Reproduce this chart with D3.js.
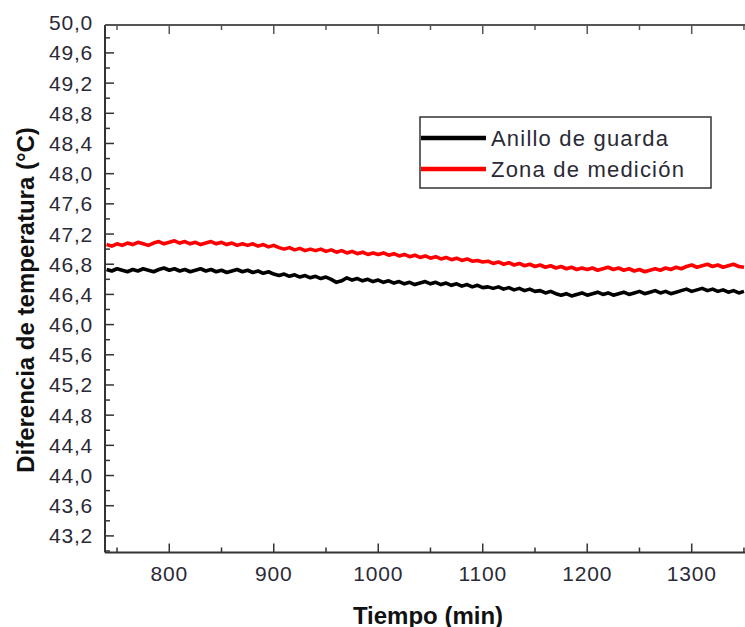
<!DOCTYPE html>
<html><head><meta charset="utf-8">
<script src="https://cdn.jsdelivr.net/npm/d3@7"></script>
<style>body{margin:0;background:#fff}svg{display:block}</style>
</head><body>
<svg id="c" width="745" height="627"></svg>
<script>
const timeStart = 740, timeStep = 5;
const seriesNames = ["Anillo de guarda", "Zona de medición"];
const seriesColors = ["#000000", "#ff0000"];
const anilloValues = [
46.73,46.71,46.74,46.72,46.70,46.73,46.71,46.74,46.72,46.70,
46.73,46.75,46.72,46.74,46.71,46.73,46.70,46.72,46.74,46.71,
46.73,46.70,46.72,46.69,46.71,46.73,46.70,46.72,46.69,46.71,
46.68,46.70,46.67,46.65,46.67,46.64,46.66,46.63,46.65,46.62,
46.64,46.61,46.63,46.60,46.56,46.58,46.62,46.59,46.61,46.58,
46.60,46.57,46.59,46.56,46.58,46.55,46.57,46.54,46.56,46.53,
46.55,46.57,46.54,46.56,46.53,46.55,46.52,46.54,46.51,46.53,
46.50,46.52,46.49,46.50,46.48,46.50,46.47,46.49,46.46,46.48,
46.45,46.47,46.44,46.45,46.42,46.44,46.41,46.39,46.41,46.38,
46.40,46.42,46.39,46.41,46.43,46.40,46.42,46.39,46.41,46.43,
46.40,46.42,46.44,46.41,46.43,46.45,46.42,46.44,46.41,46.43,
46.45,46.47,46.44,46.46,46.48,46.45,46.47,46.44,46.46,46.43,
46.45,46.42,46.44];
const zonaValues = [
47.06,47.04,47.07,47.05,47.08,47.06,47.09,47.07,47.05,47.08,
47.10,47.07,47.09,47.11,47.08,47.10,47.07,47.09,47.06,47.08,
47.10,47.07,47.09,47.06,47.08,47.05,47.07,47.05,47.07,47.04,
47.06,47.03,47.05,47.02,47.00,47.02,46.99,47.01,46.98,47.00,
46.98,47.00,46.97,46.99,46.96,46.98,46.95,46.97,46.94,46.96,
46.93,46.95,46.93,46.95,46.92,46.94,46.91,46.93,46.90,46.92,
46.89,46.91,46.88,46.90,46.87,46.89,46.86,46.88,46.85,46.87,
46.84,46.85,46.83,46.84,46.81,46.83,46.80,46.82,46.79,46.81,
46.78,46.80,46.77,46.79,46.76,46.78,46.75,46.77,46.74,46.76,
46.73,46.75,46.73,46.75,46.72,46.74,46.76,46.73,46.75,46.72,
46.74,46.71,46.73,46.70,46.72,46.74,46.72,46.75,46.73,46.76,
46.74,46.77,46.79,46.76,46.78,46.80,46.77,46.79,46.76,46.78,
46.80,46.77,46.76];
const xMajorTicks = [800, 900, 1000, 1100, 1200, 1300];
const xMinorTicks = [750, 850, 950, 1050, 1150, 1250, 1350];
const yMajorTicks = [43.2,43.6,44.0,44.4,44.8,45.2,45.6,46.0,46.4,46.8,47.2,47.6,48.0,48.4,48.8,49.2,49.6,50.0];
const yMinorTicks = [43.0,43.4,43.8,44.2,44.6,45.0,45.4,45.8,46.2,46.6,47.0,47.4,47.8,48.2,48.6,49.0,49.4,49.8];

const svg = d3.select("#c");
const L = 105, R = 745, T = 25, B = 552.5;
const x = d3.scaleLinear().domain([738.5, 1351]).range([L, R]);
const y = d3.scaleLinear().domain([42.98, 49.97]).range([B, T]);
const fmt = v => v.toFixed(1).replace(".", ",");
const font = "'Liberation Sans', Arial, sans-serif";

svg.append("defs").append("clipPath").attr("id","clip")
  .append("rect").attr("x",L).attr("y",T).attr("width",R-L).attr("height",B-T);

const series = [anilloValues, zonaValues];
const line = d3.line().x((d,i)=>x(timeStart + i*timeStep)).y(d=>y(d));
const g = svg.append("g").attr("clip-path","url(#clip)");
series.forEach((vals, k) => {
  g.append("path").datum(vals).attr("d", line)
   .attr("fill","none").attr("stroke", seriesColors[k])
   .attr("stroke-width", 3.6).attr("stroke-linejoin","round");
});

// axes frame
const axisColor = "#333";
svg.append("line").attr("x1",L).attr("x2",R).attr("y1",B).attr("y2",B).attr("stroke",axisColor).attr("stroke-width",2);
svg.append("line").attr("x1",L).attr("x2",L).attr("y1",T).attr("y2",B).attr("stroke",axisColor).attr("stroke-width",2);
svg.append("line").attr("x1",L).attr("x2",R).attr("y1",T).attr("y2",T).attr("stroke","#555").attr("stroke-width",2);

// x ticks (bottom and top, inward)
xMajorTicks.forEach(t => {
  svg.append("line").attr("x1",x(t)).attr("x2",x(t)).attr("y1",B).attr("y2",B-9).attr("stroke",axisColor).attr("stroke-width",1.5);
  svg.append("line").attr("x1",x(t)).attr("x2",x(t)).attr("y1",T).attr("y2",T+9).attr("stroke","#555").attr("stroke-width",1.5);
  svg.append("text").attr("x",x(t)).attr("y",581).attr("text-anchor","middle")
    .attr("font-family",font).attr("font-size",21).attr("letter-spacing","0.8px").attr("fill","#2a2a36").text(t);
});
xMinorTicks.forEach(t => {
  svg.append("line").attr("x1",x(t)).attr("x2",x(t)).attr("y1",B).attr("y2",B-5).attr("stroke",axisColor).attr("stroke-width",1.5);
  svg.append("line").attr("x1",x(t)).attr("x2",x(t)).attr("y1",T).attr("y2",T+5).attr("stroke","#555").attr("stroke-width",1.5);
});
// y ticks
yMajorTicks.forEach(v => {
  if (y(v) > T + 1) svg.append("line").attr("x1",L).attr("x2",L+9).attr("y1",y(v)).attr("y2",y(v)).attr("stroke",axisColor).attr("stroke-width",1.5);
  svg.append("text").attr("x",93).attr("y",y(v)+7.5).attr("text-anchor","end")
    .attr("font-family",font).attr("font-size",21).attr("letter-spacing","0.8px").attr("fill","#2a2a36").text(fmt(v));
});
yMinorTicks.forEach(v => {
  if (y(v) > T + 1 && y(v) < B - 1) svg.append("line").attr("x1",L).attr("x2",L+5).attr("y1",y(v)).attr("y2",y(v)).attr("stroke",axisColor).attr("stroke-width",1.5);
});

// axis titles
svg.append("text").attr("x",428).attr("y",623.5).attr("text-anchor","middle")
  .attr("font-family",font).attr("font-weight","bold").attr("font-size",24).attr("fill","#111").text("Tiempo (min)");
svg.append("text").attr("transform","translate(33.5,300) rotate(-90)").attr("text-anchor","middle")
  .attr("font-family",font).attr("font-weight","bold").attr("font-size",24).attr("fill","#111").text("Diferencia de temperatura (°C)");

// legend
const lg = svg.append("g");
lg.append("rect").attr("x",420).attr("y",117).attr("width",291).attr("height",71)
  .attr("fill","#fff").attr("stroke","#333").attr("stroke-width",1.5);
[138, 169].forEach((ly, k) => {
  lg.append("line").attr("x1",421).attr("x2",486).attr("y1",ly).attr("y2",ly)
    .attr("stroke",seriesColors[k]).attr("stroke-width",4.5);
  lg.append("text").attr("x",491).attr("y",ly+8).attr("font-family",font).attr("font-size",22)
    .attr("letter-spacing","1.2px").attr("fill","#2a2a36").text(seriesNames[k]);
});
</script>
</body></html>
